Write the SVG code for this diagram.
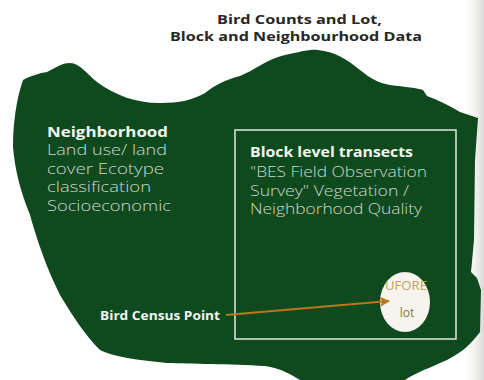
<svg xmlns="http://www.w3.org/2000/svg" width="484" height="380" viewBox="0 0 484 380">
  <defs>
    <style>
      text { font-family: "Open Sans", "Liberation Sans", sans-serif; }
      .title { font-weight: bold; font-size: 12.5px; fill: #262626; }
      .head { font-weight: bold; font-size: 14.5px; fill: #f4f4f0; }
      .body { font-weight: 300; font-size: 14px; fill: #cfd6cc; }
      .lbl { font-weight: bold; font-size: 12.5px; fill: #f4f4f0; }
      .ufore { font-size: 12px; fill: #c0a45c; }
      .lot { font-size: 12px; fill: #7e7c48; }
    </style>
    <linearGradient id="edge" x1="0" y1="0" x2="1" y2="0">
      <stop offset="0" stop-color="#ffffff" stop-opacity="0"/>
      <stop offset="1" stop-color="#d8d8d4"/>
    </linearGradient>
    <marker id="ah" viewBox="0 0 10 10" refX="9" refY="5" markerWidth="7.5" markerHeight="5" orient="auto" markerUnits="strokeWidth">
      <path d="M0,0 L10,5 L0,10 L2,5 Z" fill="#b8771c"/>
    </marker>
  </defs>
  <rect x="0" y="0" width="484" height="380" fill="#ffffff"/>
  <rect x="462" y="0" width="22" height="380" fill="url(#edge)"/>

  <g id="title">
    <text class="title" x="217" y="24" textLength="165" lengthAdjust="spacingAndGlyphs">Bird Counts and Lot,</text>
    <text class="title" x="170" y="41" textLength="252" lengthAdjust="spacingAndGlyphs">Block and Neighbourhood Data</text>
  </g>

  <g id="neighborhood">
    <path d="M23,80 C30,76 40,73 47,72 C55,68 62,63 70,63 C80,63 88,75 97,82 C115,95 135,103 160,103 C180,103 192,100 205,93 C215,85 225,80 240,76 C255,70 265,60 285,55 C300,52 310,49 318,50 C335,52 345,58 360,70 C370,78 378,83 390,85 C405,87 418,88 423,90 L427,96 C437,100 447,104 460,112 L478,118 L475,160 L474,240 L471,272 L477,278 L481,290 L480,332 C470,345 460,355 440,363 C425,370 415,373 405,380 L300,380 C290,374 280,368 265,366 C230,364 190,364 167,363 C135,360 112,356 100,350 C85,335 72,315 60,295 C48,270 40,250 30,215 C20,190 15,170 13,147 C13,125 16,100 23,80 Z" fill="#0f4a1f"/>
    <text class="head" x="47" y="137" textLength="121" lengthAdjust="spacingAndGlyphs">Neighborhood</text>
    <text class="body" x="47" y="155" textLength="120" lengthAdjust="spacingAndGlyphs">Land use/ land</text>
    <text class="body" x="47" y="174" textLength="117" lengthAdjust="spacingAndGlyphs">cover Ecotype</text>
    <text class="body" x="47" y="192" textLength="104" lengthAdjust="spacingAndGlyphs">classification</text>
    <text class="body" x="47" y="211" textLength="124" lengthAdjust="spacingAndGlyphs">Socioeconomic</text>
  </g>

  <g id="block">
    <rect x="235" y="130" width="221" height="209" fill="none" stroke="#e6e8de" stroke-width="1.5"/>
    <text class="head" x="250" y="157" textLength="163" lengthAdjust="spacingAndGlyphs">Block level transects</text>
    <text class="body" x="250" y="177" textLength="177" lengthAdjust="spacingAndGlyphs">"BES Field Observation</text>
    <text class="body" x="250" y="196" textLength="159" lengthAdjust="spacingAndGlyphs">Survey" Vegetation /</text>
    <text class="body" x="250" y="214" textLength="172" lengthAdjust="spacingAndGlyphs">Neighborhood Quality</text>
  </g>

  <g id="lot">
    <ellipse cx="405" cy="302" rx="25" ry="30" fill="#f6f4ec"/>
    <text class="ufore" x="385" y="290" textLength="42" lengthAdjust="spacingAndGlyphs">UFORE</text>
    <text class="lot" x="407" y="317" text-anchor="middle">lot</text>
  </g>

  <g id="census">
    <text class="lbl" x="100" y="320" textLength="120" lengthAdjust="spacingAndGlyphs">Bird Census Point</text>
  </g>

  <g id="connectors">
    <line x1="226" y1="315" x2="389" y2="301" stroke="#b8771c" stroke-width="2" marker-end="url(#ah)"/>
  </g>
</svg>
